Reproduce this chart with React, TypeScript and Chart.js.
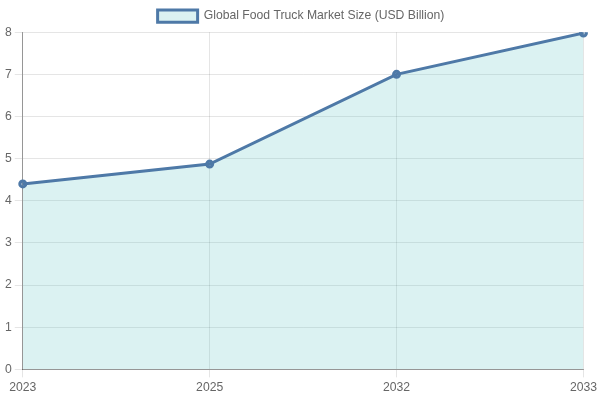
import { useEffect, useRef } from "react"
import { Chart, registerables } from "chart.js"

Chart.register(...registerables)

const years = ["2023", "2025", "2032", "2033"]
const marketSize = [4.4, 4.87, 7.0, 7.98]
const seriesLabel = "Global Food Truck Market Size (USD Billion)"

export default function App() {
  const chartRef = useRef<HTMLCanvasElement>(null)
  const chartInstance = useRef<Chart | null>(null)

  useEffect(() => {
    if (!chartRef.current) return
    if (chartInstance.current) chartInstance.current.destroy()

    const ctx = chartRef.current.getContext("2d")
    if (!ctx) return

    Chart.defaults.font.family = "'Liberation Sans', Arial, sans-serif"
    Chart.defaults.font.size = 12.2

    chartInstance.current = new Chart(ctx, {
      type: "line",
      data: {
        labels: years,
        datasets: [
          {
            label: seriesLabel,
            data: marketSize,
            borderColor: "rgb(78, 121, 167)",
            backgroundColor: "rgba(75, 192, 192, 0.2)",
            pointBackgroundColor: "rgba(78, 121, 167, 0.45)",
            pointBorderColor: "rgb(78, 121, 167)",
            borderWidth: 3,
            pointRadius: 3,
            fill: true,
            tension: 0,
          },
        ],
      },
      options: {
        responsive: true,
        maintainAspectRatio: false,
        animation: false,
        layout: { padding: { left: 2, bottom: 2 } },
        plugins: {
          legend: { display: true, position: "top" },
        },
        scales: {
          x: {
            offset: false,
            border: { color: "rgba(0, 0, 0, 0.35)" },
          },
          y: {
            beginAtZero: true,
            max: 8,
            ticks: { stepSize: 1 },
            border: { color: "rgba(0, 0, 0, 0.35)" },
          },
        },
      },
    })

    return () => {
      if (chartInstance.current) {
        chartInstance.current.destroy()
        chartInstance.current = null
      }
    }
  }, [])

  return (
    <div style={{ position: "fixed", left: 0, top: 0, width: 600, height: 400 }}>
      <canvas ref={chartRef} />
    </div>
  )
}
